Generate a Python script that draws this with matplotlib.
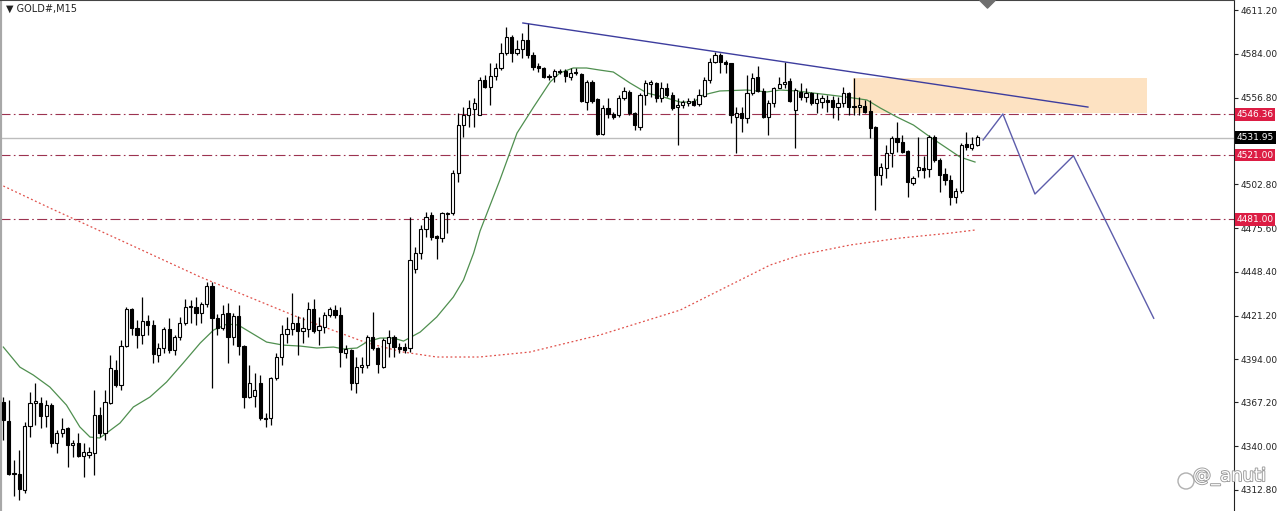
import numpy as np
import matplotlib.pyplot as plt
import matplotlib.patheffects as pe
from matplotlib.patches import Ellipse

# GOLD#, M15 candles
opens = [4367.4, 4355.6, 4323.2, 4322.6, 4312.6, 4352.5, 4366.7, 4366.7, 4358.7, 4365.5,
         4341.9, 4348.1, 4351.2, 4340.6, 4341.9, 4333.8, 4334.4, 4335.6, 4359.3, 4348.1,
         4366.7, 4387.3, 4378.0, 4402.2, 4425.2, 4413.4, 4409.1, 4417.8, 4415.3, 4396.6,
         4401.0, 4412.8, 4399.7, 4407.8, 4416.5, 4426.5, 4426.5, 4422.7, 4428.4, 4439.6,
         4419.6, 4413.4, 4422.7, 4407.8, 4420.9, 4402.2, 4370.5, 4371.1, 4379.2, 4357.4,
         4357.4, 4382.3, 4395.4, 4409.7, 4412.8, 4416.5, 4411.6, 4412.8, 4425.2, 4412.2,
         4414.0, 4421.5, 4424.6, 4421.5, 4397.9, 4399.7, 4379.2, 4389.1, 4390.4, 4407.8,
         4401.0, 4389.1, 4404.1, 4407.8, 4401.6, 4401.6, 4401.0, 4450.1, 4460.1, 4475.0,
         4483.7, 4470.7, 4469.4, 4484.4, 4485.0, 4509.9, 4539.7, 4545.9, 4549.7, 4545.9,
         4567.7, 4563.4, 4570.2, 4575.2, 4584.5, 4594.5, 4584.5, 4587.0, 4592.6, 4583.3,
         4576.4, 4575.2, 4570.2, 4570.2, 4573.3, 4573.3, 4569.6, 4572.7, 4571.4, 4554.0,
         4566.5, 4555.9, 4534.1, 4550.3, 4546.6, 4545.9, 4556.5, 4560.3, 4547.2, 4538.5,
         4558.4, 4565.2, 4565.9, 4556.5, 4562.7, 4558.4, 4550.9, 4552.2, 4553.4, 4554.7,
         4552.8, 4557.8, 4567.7, 4578.9, 4583.3, 4578.9, 4578.3, 4544.7, 4547.2, 4544.1,
         4559.6, 4569.6, 4560.9, 4544.7, 4553.4, 4562.7, 4565.2, 4567.1, 4549.1, 4560.3,
         4557.1, 4559.6, 4553.4, 4554.0, 4555.3, 4555.3, 4550.9, 4553.4, 4559.6, 4551.5,
         4550.9, 4551.5, 4548.4, 4538.5, 4508.6, 4513.0, 4522.3, 4531.6, 4529.1, 4523.6,
         4503.6, 4511.7, 4513.0, 4512.4, 4532.3, 4518.0, 4509.2, 4505.5, 4494.9, 4498.7,
         4527.9, 4525.4, 4527.3]
highs = [4370.5, 4368.6, 4331.3, 4337.5, 4355.0, 4373.6, 4379.2, 4370.5, 4368.6, 4366.7,
         4350.0, 4357.4, 4351.8, 4343.7, 4348.1, 4341.9, 4339.4, 4374.9, 4364.3, 4374.9,
         4396.6, 4393.5, 4406.0, 4426.5, 4425.9, 4418.4, 4432.7, 4421.5, 4418.4, 4404.1,
         4414.0, 4419.6, 4409.1, 4420.3, 4431.5, 4430.8, 4432.7, 4429.6, 4442.0, 4442.0,
         4422.1, 4427.7, 4429.0, 4422.7, 4427.7, 4402.8, 4390.4, 4385.4, 4384.2, 4360.5,
         4383.0, 4397.9, 4415.3, 4420.3, 4435.2, 4420.9, 4420.3, 4429.6, 4431.5, 4420.3,
         4423.4, 4426.5, 4427.7, 4426.5, 4402.8, 4400.4, 4395.4, 4395.4, 4409.1, 4423.4,
         4401.6, 4407.2, 4412.2, 4409.1, 4404.1, 4404.1, 4482.5, 4463.8, 4477.5, 4485.6,
         4485.6, 4471.3, 4485.6, 4485.6, 4511.7, 4547.2, 4550.9, 4555.3, 4556.5, 4569.6,
         4570.8, 4578.3, 4578.3, 4590.7, 4600.7, 4595.7, 4592.6, 4597.0, 4603.2, 4585.1,
         4578.3, 4575.8, 4571.4, 4574.6, 4574.6, 4574.6, 4575.2, 4575.2, 4572.1, 4567.7,
         4567.7, 4556.5, 4552.2, 4556.5, 4547.8, 4558.4, 4563.4, 4561.5, 4547.8, 4559.6,
         4567.7, 4567.7, 4566.5, 4566.5, 4565.9, 4560.3, 4556.5, 4555.3, 4556.5, 4556.5,
         4562.1, 4569.6, 4581.4, 4585.1, 4584.5, 4580.2, 4578.3, 4550.9, 4550.9, 4570.8,
         4572.1, 4576.4, 4562.7, 4555.3, 4563.4, 4569.6, 4578.9, 4569.0, 4562.7, 4565.9,
         4562.7, 4560.3, 4559.6, 4558.4, 4558.4, 4557.8, 4557.1, 4563.4, 4560.3, 4569.0,
         4557.1, 4555.3, 4555.3, 4539.1, 4516.1, 4527.3, 4532.9, 4541.6, 4533.5, 4524.2,
         4508.0, 4532.3, 4520.4, 4533.5, 4533.5, 4519.2, 4513.0, 4508.6, 4500.5, 4528.5,
         4535.4, 4532.3, 4533.5]
lows = [4343.7, 4322.0, 4308.9, 4306.4, 4310.8, 4345.6, 4353.1, 4351.2, 4351.9, 4339.4,
        4335.6, 4345.6, 4326.9, 4333.1, 4333.1, 4320.7, 4332.5, 4322.0, 4345.6, 4343.7,
        4366.1, 4376.7, 4374.9, 4401.6, 4409.1, 4401.0, 4403.5, 4409.1, 4391.6, 4392.3,
        4397.9, 4397.9, 4396.6, 4406.0, 4415.3, 4416.5, 4415.3, 4416.5, 4426.5, 4376.1,
        4409.1, 4412.2, 4391.6, 4402.8, 4396.6, 4363.6, 4369.9, 4364.3, 4356.2, 4351.9,
        4353.1, 4381.1, 4390.4, 4404.1, 4409.1, 4396.6, 4404.1, 4407.8, 4410.3, 4402.8,
        4410.3, 4420.3, 4419.6, 4389.1, 4394.7, 4374.9, 4373.0, 4385.4, 4388.5, 4399.7,
        4385.4, 4388.5, 4395.4, 4395.4, 4397.9, 4397.9, 4398.5, 4447.6, 4456.4, 4470.0,
        4468.2, 4456.4, 4466.9, 4472.5, 4483.7, 4504.3, 4532.3, 4538.5, 4538.5, 4545.9,
        4562.7, 4552.2, 4567.7, 4573.9, 4583.3, 4578.9, 4583.3, 4581.4, 4581.4, 4573.9,
        4572.7, 4569.0, 4567.7, 4566.5, 4571.4, 4566.5, 4567.7, 4570.8, 4554.0, 4549.1,
        4553.4, 4533.5, 4533.5, 4544.1, 4543.5, 4544.7, 4555.3, 4545.9, 4536.6, 4536.6,
        4552.2, 4557.1, 4554.0, 4554.0, 4557.1, 4549.1, 4527.3, 4550.3, 4551.5, 4551.5,
        4551.5, 4557.1, 4565.9, 4578.3, 4572.1, 4572.1, 4541.0, 4522.3, 4535.4, 4541.0,
        4558.4, 4560.3, 4544.1, 4533.5, 4550.9, 4562.7, 4562.7, 4554.0, 4525.4, 4555.3,
        4554.0, 4552.2, 4547.2, 4550.3, 4547.8, 4544.1, 4542.8, 4550.9, 4545.9, 4545.9,
        4545.9, 4547.2, 4531.6, 4486.8, 4502.4, 4506.7, 4513.6, 4522.9, 4522.3, 4494.9,
        4502.4, 4507.4, 4506.7, 4507.4, 4516.7, 4498.0, 4502.4, 4490.0, 4491.2, 4497.4,
        4524.2, 4524.2, 4526.7]
closes = [4356.2, 4322.6, 4322.6, 4313.2, 4352.5, 4366.7, 4368.0, 4358.7, 4365.5, 4341.9,
          4348.1, 4350.6, 4340.6, 4341.9, 4333.8, 4336.3, 4336.3, 4359.3, 4348.1, 4367.4,
          4388.5, 4378.0, 4402.2, 4425.2, 4413.4, 4409.1, 4417.8, 4415.3, 4397.2, 4401.0,
          4412.8, 4399.7, 4407.8, 4416.5, 4426.5, 4427.1, 4422.7, 4428.4, 4439.6, 4419.6,
          4413.4, 4422.1, 4407.8, 4420.9, 4402.2, 4370.5, 4379.2, 4374.9, 4357.4, 4356.8,
          4382.3, 4395.4, 4409.7, 4412.8, 4416.5, 4411.6, 4413.4, 4425.2, 4411.6, 4414.7,
          4421.5, 4425.2, 4421.5, 4398.5, 4400.4, 4379.2, 4389.1, 4390.4, 4407.8, 4401.0,
          4391.0, 4406.0, 4407.8, 4401.6, 4400.4, 4399.7, 4455.7, 4460.1, 4475.0, 4482.5,
          4470.0, 4469.4, 4485.0, 4485.0, 4509.9, 4539.7, 4545.9, 4550.3, 4553.4, 4567.7,
          4563.4, 4570.2, 4575.2, 4584.5, 4594.5, 4584.5, 4587.0, 4592.6, 4583.3, 4575.8,
          4575.2, 4569.6, 4569.6, 4573.3, 4573.0, 4570.2, 4572.1, 4572.1, 4554.7, 4566.5,
          4554.7, 4534.1, 4550.3, 4546.6, 4544.7, 4556.5, 4560.9, 4547.2, 4539.7, 4558.4,
          4565.9, 4566.5, 4556.5, 4562.7, 4558.4, 4550.3, 4552.2, 4554.0, 4554.7, 4552.2,
          4558.4, 4567.7, 4578.9, 4583.3, 4578.9, 4577.7, 4545.9, 4547.2, 4544.1, 4559.6,
          4569.0, 4560.9, 4544.7, 4553.4, 4562.7, 4565.2, 4566.5, 4554.7, 4561.5, 4557.1,
          4559.6, 4553.4, 4555.9, 4556.5, 4554.0, 4550.9, 4553.4, 4559.6, 4550.9, 4550.9,
          4552.2, 4547.8, 4537.9, 4508.6, 4513.6, 4522.3, 4531.6, 4529.1, 4522.9, 4504.3,
          4506.7, 4513.6, 4511.7, 4532.3, 4518.0, 4508.6, 4505.5, 4494.9, 4498.7, 4527.3,
          4526.0, 4527.9, 4532.3]

# moving averages, sampled along the curves (bar index, price)
ma_fast_idx = [0, 3.1, 5.6, 8.7, 11.8, 14.3, 16.2, 18, 19.3, 21.8, 24.3, 27.4, 30.5, 33.6,
               36.8, 39.3, 41.8, 43.9, 46.1, 49.2, 52.3, 55.5, 58.6, 61.7, 63.6, 66.1, 67.9,
               70.4, 72.9, 74.8, 77.9, 81, 84.1, 86, 87.9, 89.1, 92.8, 96, 99.1, 102.2, 104,
               106.5, 109, 111.5, 114, 117.1, 120.3, 123.4, 126.5, 129, 130.8, 133.9, 138.9,
               142.7, 145.2, 148.3, 151.4, 154.5, 157.6, 161.4, 163.9, 167, 170.1, 173.2,
               176.3, 178.8, 181.6]
ma_fast = [4401.6, 4389.1, 4384.2, 4376.7, 4365.5, 4351.9, 4345.6, 4345.0, 4348.1, 4354.3,
           4364.3, 4370.5, 4379.8, 4391.6, 4404.1, 4412.2, 4415.9, 4415.3, 4410.9, 4404.7,
           4402.8, 4402.2, 4401.0, 4401.6, 4400.4, 4401.0, 4404.7, 4407.2, 4407.2, 4405.3,
           4410.9, 4420.3, 4432.7, 4443.3, 4460.1, 4473.8, 4505.5, 4534.7, 4550.9, 4566.5,
           4572.1, 4575.2, 4575.2, 4573.9, 4572.7, 4565.9, 4559.6, 4557.1, 4554.0, 4554.0,
           4558.4, 4560.9, 4561.5, 4560.3, 4561.5, 4560.9, 4559.6, 4558.4, 4557.1, 4555.3,
           4550.3, 4544.7, 4539.7, 4532.3, 4525.4, 4519.8, 4516.7]
ma_slow_idx = [0, 8.7, 21.8, 36.8, 55.5, 68, 74.7, 81, 89, 98.4, 111.5, 126.5, 134,
               143.3, 148.9, 158.3, 167.6, 177, 181.6]
ma_slow = [4501.8, 4488.1, 4468.2, 4445.2, 4419.6, 4404.1, 4398.5, 4395.4, 4395.4, 4398.5,
           4409.1, 4424.6, 4437.1, 4452.6, 4458.8, 4465.1, 4469.4, 4472.5, 4474.4]

# horizontal levels and current price
levels = [4546.36, 4521.00, 4481.00]
last_price = 4531.95

# drawn objects
trend_idx = [97.1, 202.7]
trend_px = [4603.2, 4550.9]
path_idx = [183.1, 186.8, 192.8, 200.0, 215.0]
path_px = [4530.4, 4546.6, 4496.8, 4520.6, 4419.5]
zone_idx = [158.8, 213.8]
zone_px = [4547.2, 4569.0]
shift_idx = 183.9

yticks = [4611.20, 4584.00, 4556.80, 4502.80, 4475.60, 4448.40, 4421.20,
          4394.00, 4367.20, 4340.00, 4312.80]

fig = plt.figure(figsize=(12.8, 5.11), dpi=100)
ax = fig.add_axes([0, 0, 1234 / 1280, 1])
ax.set_xlim(-0.62, 230.0)
ax.set_ylim(4299.6, 4617.5)

# supply zone
ax.fill_between(zone_idx, zone_px[0], zone_px[1], color='#fde2c2', lw=0, zorder=0.5)

for lv in levels:
    ax.axhline(lv, color='#9c3350', lw=0.8, ls=(0, (9, 3, 1.5, 3)), zorder=1)
ax.axhline(last_price, color='#bdbdbd', lw=1, zorder=1)

ax.plot(ma_slow_idx, ma_slow, color='#e0504a', lw=0.9, ls=(0, (1.5, 2)), zorder=2)
ax.plot(ma_fast_idx, ma_fast, color='#4f8f4f', lw=0.9, zorder=2)

# candles
o = np.array(opens)
c = np.array(closes)
idx = np.arange(len(o))
ax.vlines(idx, lows, highs, color='black', lw=0.9, zorder=3)
body_bottom = np.minimum(o, c)
body_height = np.abs(c - o)
face = np.where(c >= o, 'white', 'black')
ax.bar(idx, body_height, bottom=body_bottom, width=0.6, color=face,
       edgecolor='black', lw=0.8, zorder=4)

ax.plot(trend_idx, trend_px, color='#3d3d9e', lw=1, zorder=5)
ax.plot(path_idx, path_px, color='#5d5dab', lw=1, zorder=5)

ax.scatter([shift_idx], [4617.5], marker='D', s=60, color='#6e6e6e', zorder=6)

# axes styling
ax.set_xticks([])
ax.yaxis.tick_right()
ax.set_yticks(yticks, [f'{t:.2f}' for t in yticks])
ax.tick_params(axis='y', direction='out', length=3, width=0.8, pad=2,
               labelsize=6.5, colors='#222222')
ax.spines['bottom'].set_visible(False)
ax.spines['left'].set_color('#a8a8a8')
ax.spines['left'].set_linewidth(3)
ax.spines['top'].set_color('#444444')
ax.spines['top'].set_linewidth(1.5)
ax.spines['right'].set_color('#222222')

# price tags on the axis
trans = ax.get_yaxis_transform()
for lv in levels:
    ax.text(1.002, lv, f'{lv:.2f}', transform=trans, ha='left', va='center',
            fontsize=6.5, color='white', clip_on=False, zorder=7,
            bbox=dict(boxstyle='square,pad=0.2', fc='#dc1d44', ec='none'))
ax.text(1.002, last_price, f'{last_price:.2f}', transform=trans, ha='left', va='center',
        fontsize=6.5, color='white', clip_on=False, zorder=7,
        bbox=dict(boxstyle='square,pad=0.2', fc='black', ec='none'))

ax.text(0.005, 0.982, '▼ GOLD#,M15', transform=ax.transAxes, ha='left', va='center',
        fontsize=7, color='#222222')

# watermark
fig.patches.append(Ellipse((1186 / 1280, 1 - 481 / 511), 16 / 1280, 16 / 511,
                           transform=fig.transFigure, fc='white', ec='#b0b0b0', lw=1.0))
fig.text(0.932, 0.068, '@_anuti', ha='left', va='center', fontsize=13, color='white',
         path_effects=[pe.withStroke(linewidth=1.3, foreground='#9a9a9a')])

fig.savefig('out.png', dpi=100)
